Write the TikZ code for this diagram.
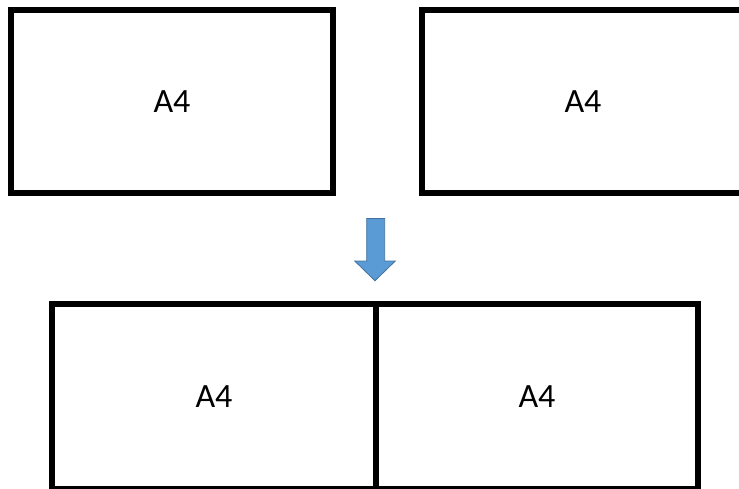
\documentclass[tikz,border=0pt]{standalone}
\usepackage{fontspec}
\setmainfont{Carlito}
\definecolor{arrowfill}{HTML}{5B9BD5}
\definecolor{arrowline}{HTML}{41719C}
\begin{document}
\begin{tikzpicture}[x=1pt,y=-1pt,
  page/.style={draw=black,line width=6pt,fill=white,minimum width=322pt,minimum height=183pt,inner sep=0pt,font=\fontsize{34}{40}\selectfont},
  downarrow/.style={fill=arrowfill,draw=arrowline,line width=0.8pt,line join=miter}]
\useasboundingbox (0,0) rectangle (739,488);
\clip (0,0) rectangle (739,488);
\node[page] (tl) at (172,101.5) {A4};
\node[page] (tr) at (583,101.5) {A4};
\node[page,minimum width=324pt,minimum height=185pt] (bl) at (214,396.5) {A4};
\node[page,minimum width=322pt,minimum height=185pt] (br) at (537,396.5) {A4};
\draw[downarrow] (366.7,218.5) -- (384.7,218.5) -- (384.7,261) -- (395.3,261) -- (375,280.7) -- (354.7,261) -- (366.7,261) -- cycle;
\end{tikzpicture}
\end{document}
